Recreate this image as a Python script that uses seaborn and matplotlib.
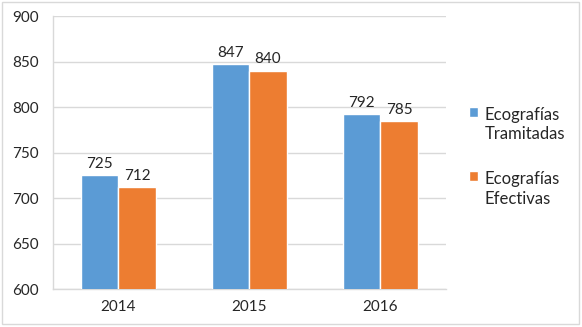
import pandas as pd
import seaborn as sns
import matplotlib.pyplot as plt
from matplotlib.patches import Rectangle

# Datos del grafico
anios = ['2014', '2015', '2016']
tramitadas = [725, 847, 792]
efectivas = [712, 840, 785]
series = ['Ecografías\nTramitadas', 'Ecografías\nEfectivas']
colores = ['#5B9BD5', '#ED7D31']

df = pd.DataFrame({
    'anio': anios * 2,
    'valor': tramitadas + efectivas,
    'serie': [series[0]] * len(anios) + [series[1]] * len(anios),
})

sns.set_style('white')
plt.rcParams['font.family'] = ['Lato', 'DejaVu Sans']
texto = '#262626'

fig = plt.figure(figsize=(5.82, 3.27), dpi=100)
ax = fig.add_axes([0.091, 0.116, 0.675, 0.835])

sns.barplot(data=df, x='anio', y='valor', hue='serie', palette=colores,
            width=0.57, saturation=1, ax=ax, zorder=3)

for cont in ax.containers:
    ax.bar_label(cont, padding=3, fontsize=11, color=texto)

ax.set_ylim(600, 900)
ax.set_yticks(range(600, 901, 50))
ax.set_xlim(-0.5, 2.5)
ax.yaxis.grid(True, color='#D9D9D9', linewidth=1, zorder=0)
ax.set_xlabel('')
ax.set_ylabel('')

for lado in ['top', 'right']:
    ax.spines[lado].set_visible(False)
for lado in ['left', 'bottom']:
    ax.spines[lado].set_color('#D9D9D9')
    ax.spines[lado].set_linewidth(1)

ax.tick_params(axis='y', length=4, color='#D9D9D9', labelsize=11, labelcolor=texto, pad=6)
ax.tick_params(axis='x', which='major', length=0, labelsize=11, labelcolor=texto, pad=8)
ax.set_xticks([-0.5, 0.5, 1.5, 2.5], minor=True)
ax.tick_params(axis='x', which='minor', length=4, color='#D9D9D9', direction='out')

leg = ax.legend(loc='upper left', bbox_to_anchor=(469 / 582, 1 - 107 / 327),
                bbox_transform=fig.transFigure, frameon=False, borderaxespad=0,
                borderpad=0, fontsize=12, handlelength=0.55, handleheight=0.55,
                labelspacing=1.75, handletextpad=0.4, labelcolor=texto)
for t in leg.get_texts():
    t.set_linespacing(1.25)
# alinear el cuadrado con la primera linea del texto
for col in leg._legend_handle_box.get_children():
    for fila in col.get_children():
        fila.align = 'top'

fig.patches.append(Rectangle((0.004, 0.008), 0.99, 0.985, transform=fig.transFigure,
                             fill=False, edgecolor='#D9D9D9', linewidth=1))

fig.savefig('out.png', dpi=100)
